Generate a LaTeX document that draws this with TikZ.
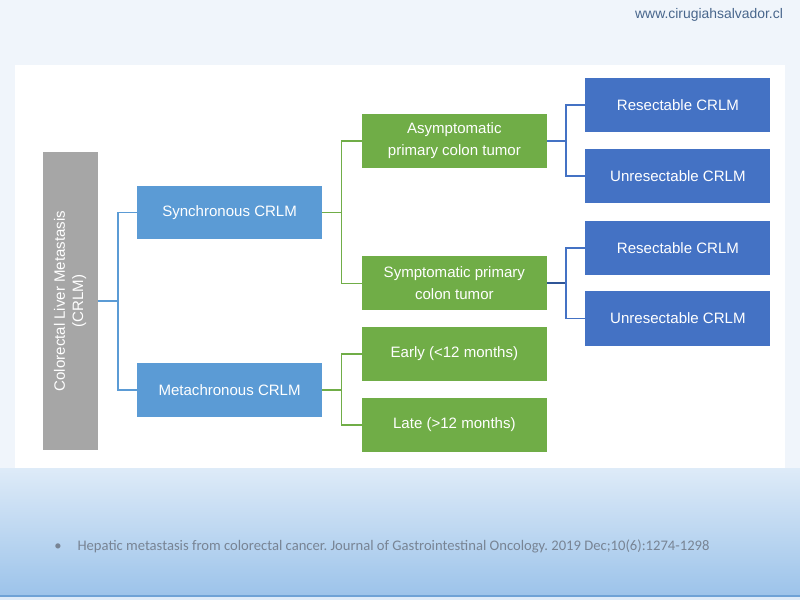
\documentclass[tikz,border=0pt]{standalone}
\usepackage{fontspec}
\setmainfont{Liberation Sans}
\newfontfamily\citefont{Carlito}
\usetikzlibrary{positioning, calc, backgrounds}
\frenchspacing
\definecolor{crlmgrey}{RGB}{166,166,166}
\definecolor{midblue}{RGB}{91,155,213}
\definecolor{leafgreen}{RGB}{112,173,71}
\definecolor{deepblue}{RGB}{68,114,196}
\definecolor{stemblue}{RGB}{47,85,151}
\definecolor{bgtop}{RGB}{240,245,251}
\definecolor{bgmid}{RGB}{222,235,248}
\definecolor{bgbottom}{RGB}{156,195,234}
\definecolor{edgeblue}{RGB}{110,162,214}
\definecolor{urlcol}{RGB}{72,102,140}
\definecolor{citecol}{RGB}{120,132,148}
\newcommand{\boxfont}{\fontsize{10.7}{15.4}\selectfont}
\tikzset{
	rootblock/.style={rectangle, fill=crlmgrey, text=white, rotate=90, inner sep=0pt,
		minimum width=7.45cm, minimum height=1.375cm, align=center,
		font=\fontsize{10.7}{13}\selectfont},
	typeblock/.style={rectangle, fill=midblue, text=white, inner sep=0pt,
		minimum width=4.625cm, minimum height=1.33cm, align=center, font=\boxfont},
	tumorblock/.style={rectangle, fill=leafgreen, text=white, inner sep=0pt,
		minimum width=4.625cm, minimum height=1.36cm, align=center, font=\boxfont},
	resblock/.style={rectangle, fill=deepblue, text=white, inner sep=0pt,
		minimum width=4.625cm, minimum height=1.36cm, align=center, font=\boxfont},
	bluelink/.style={draw=midblue, line width=1pt},
	greenlink/.style={draw=leafgreen, line width=1pt},
	deeplink/.style={draw=deepblue, line width=1pt},
}
\begin{document}
\begin{tikzpicture}[node distance=0.36cm and 0.96cm]
	% page and panel
	\fill[bgtop] (0,0) rectangle (20,-15);
	\shade[top color=bgmid, bottom color=bgbottom] (0,-11.7) rectangle (20,-14.9);
	\fill[edgeblue] (0,-14.87) rectangle (20,-14.93);
	\fill[bgmid] (0,-14.93) rectangle (20,-15);
	\fill[white] (0.375,-1.625) rectangle (19.625,-11.7);
	\node[anchor=east, text=urlcol, inner sep=0pt, font=\fontsize{9.9}{11}\selectfont] (url) at (19.58,-0.36) {www.cirugiahsalvador.cl};
	% tree
	\node[rootblock] (crlm) at (1.75,-7.525) {Colorectal Liver Metastasis\\(CRLM)};
	\node[typeblock] (sync) at (5.74,-5.31) {Synchronous CRLM};
	\node[typeblock] (meta) at (5.74,-9.75) {Metachronous CRLM};
	\node[tumorblock, right=0.98cm of sync, yshift=1.79cm] (asym) {Asymptomatic\\primary colon tumor};
	\node[tumorblock, right=0.98cm of sync, yshift=-1.77cm] (sym) {Symptomatic primary\\colon tumor};
	\node[tumorblock, right=0.98cm of meta, yshift=0.9cm] (early) {Early (<12 months)};
	\node[tumorblock, right=0.98cm of meta, yshift=-0.875cm] (late) {Late (>12 months)};
	\node[resblock, right=0.95cm of asym, yshift=0.895cm] (resA) {Resectable CRLM};
	\node[resblock, right=0.95cm of asym, yshift=-0.88cm] (unresA) {Unresectable CRLM};
	\node[resblock, right=0.95cm of sym, yshift=0.88cm] (resB) {Resectable CRLM};
	\node[resblock, right=0.95cm of sym, yshift=-0.88cm] (unresB) {Unresectable CRLM};
	% connectors
	\coordinate (jroot) at ($(crlm.south)+(0.51,0)$);
	\draw[bluelink, line width=1.4pt] (crlm.south) -- (jroot);
	\draw[bluelink] (jroot) |- (sync.west);
	\draw[bluelink] (jroot) |- (meta.west);
	\coordinate (jsync) at ($(sync.east)+(0.475,0)$);
	\draw[greenlink] (sync.east) -- (jsync);
	\draw[greenlink] (jsync) |- (asym.west);
	\draw[greenlink] (jsync) |- (sym.west);
	\coordinate (jmeta) at ($(meta.east)+(0.475,0)$);
	\draw[greenlink] (meta.east) -- (jmeta);
	\draw[greenlink] (jmeta) |- (early.west);
	\draw[greenlink] (jmeta) |- (late.west);
	\coordinate (jasym) at ($(asym.east)+(0.475,0)$);
	\draw[deeplink] (asym.east) -- (jasym);
	\draw[deeplink] (jasym) |- (resA.west);
	\draw[deeplink] (jasym) |- (unresA.west);
	\coordinate (jsym) at ($(sym.east)+(0.475,0)$);
	\draw[deeplink, draw=stemblue, line width=1.5pt] (sym.east) -- (jsym);
	\draw[deeplink] (jsym) |- (resB.west);
	\draw[deeplink] (jsym) |- (unresB.west);
	% reference
	\node[anchor=west, text=citecol, inner sep=0pt, font=\citefont\fontsize{10.4}{12}\selectfont] (cite) at (1.35,-13.65) {\textbullet\hspace{0.4cm}Hepatic metastasis from colorectal cancer. Journal of Gastrointestinal Oncology. 2019 Dec;10(6):1274-1298};
\end{tikzpicture}
\end{document}
